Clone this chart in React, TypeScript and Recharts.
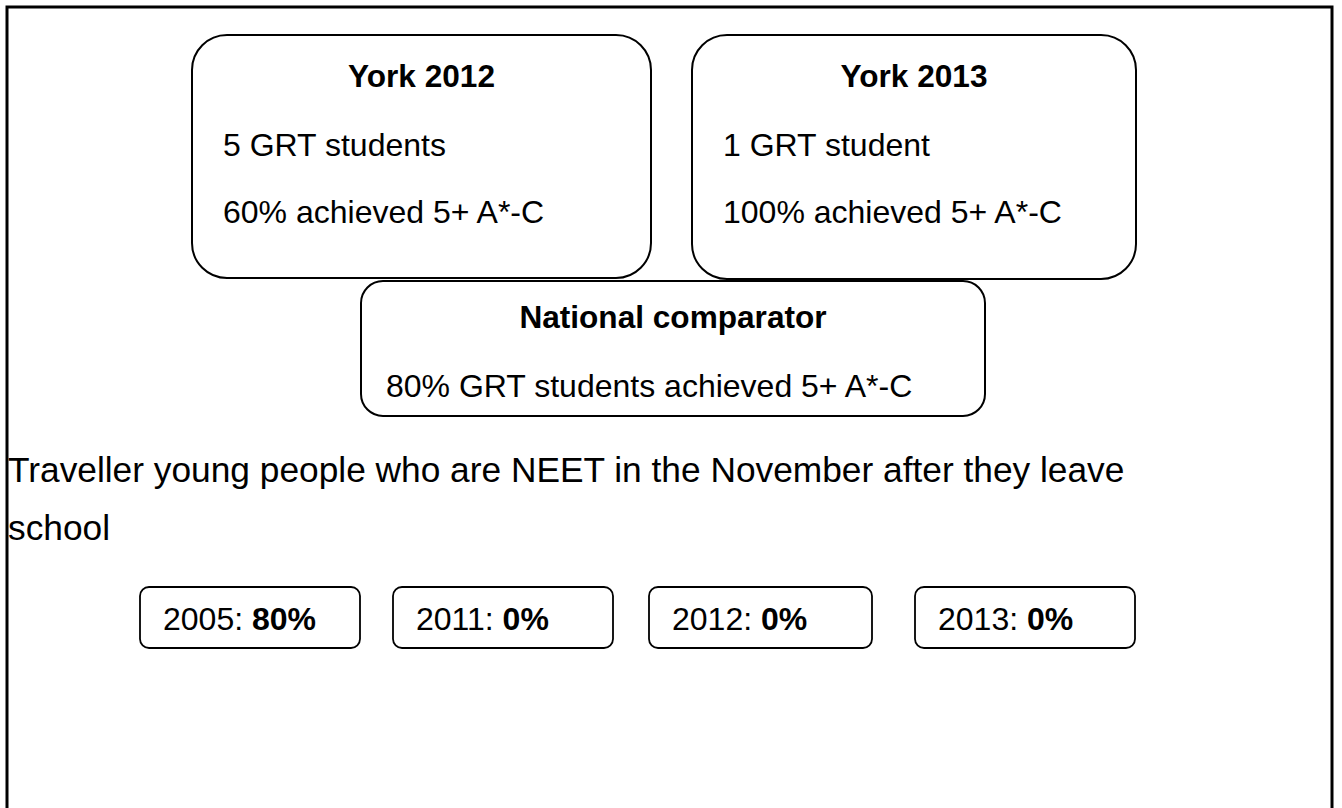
import React from 'react';
import { ComposedChart, Customized } from 'recharts';

// GCSE results for GRT students
const yorkTitles = ['York 2012', 'York 2013'];
const yorkStudents = ['5 GRT students', '1 GRT student'];
const yorkAchieved = [60, 100];
const nationalTitle = 'National comparator';
const nationalAchieved = 80;

// NEET rates
const neetHeading = ['Traveller young people who are NEET in the November after they leave', 'school'];
const neetYears = ['2005', '2011', '2012', '2013'];
const neetValues = [80, 0, 0, 0];

const W = 1342;
const H = 808;
const FONT = '"Liberation Sans", Arial, sans-serif';

// box geometry (pixels)
const yorkBoxes = [
  { x: 192, y: 35, w: 459, h: 243 },
  { x: 692, y: 35, w: 444, h: 244 },
];
const nationalBox = { x: 361, y: 281, w: 624, h: 135 };
const neetBoxes = [
  { x: 140, w: 220 },
  { x: 393, w: 220 },
  { x: 649, w: 223 },
  { x: 915, w: 220 },
];

const chartData = neetYears.map((year, i) => ({ year, value: neetValues[i] }));

function Panels() {
  return (
    <g fontFamily={FONT} fill="#000">
      <rect x={7} y={7} width={1325} height={H + 20} fill="none" stroke="#000" strokeWidth={3} />

      {yorkBoxes.map((b, i) => (
        <g key={yorkTitles[i]}>
          <rect x={b.x} y={b.y} width={b.w} height={b.h} rx={35} ry={35} fill="#fff" stroke="#000" strokeWidth={2} />
          <text x={b.x + b.w / 2} y={87} textAnchor="middle" fontSize={31.6} fontWeight="bold">
            {yorkTitles[i]}
          </text>
          <text x={b.x + 31} y={156} fontSize={32}>
            {yorkStudents[i]}
          </text>
          <text x={b.x + 31} y={223} fontSize={32}>
            {`${yorkAchieved[i]}% achieved 5+ A*-C`}
          </text>
        </g>
      ))}

      <rect
        x={nationalBox.x}
        y={nationalBox.y}
        width={nationalBox.w}
        height={nationalBox.h}
        rx={22}
        ry={22}
        fill="#fff"
        stroke="#000"
        strokeWidth={2}
      />
      <text x={nationalBox.x + nationalBox.w / 2} y={328} textAnchor="middle" fontSize={31.6} fontWeight="bold">
        {nationalTitle}
      </text>
      <text x={nationalBox.x + 25} y={397} fontSize={32}>
        {`${nationalAchieved}% GRT students achieved 5+ A*-C`}
      </text>

      <text x={8} y={482} fontSize={35.3}>
        {neetHeading[0]}
      </text>
      <text x={8} y={540} fontSize={35.3}>
        {neetHeading[1]}
      </text>

      {chartData.map((d, i) => (
        <g key={d.year}>
          <rect x={neetBoxes[i].x} y={587} width={neetBoxes[i].w} height={61} rx={9} ry={9} fill="#fff" stroke="#000" strokeWidth={1.8} />
          <text x={neetBoxes[i].x + 23} y={630} fontSize={32}>
            {`${d.year}: `}
            <tspan fontWeight="bold">{`${d.value}%`}</tspan>
          </text>
        </g>
      ))}
    </g>
  );
}

export default function App() {
  return (
    <div style={{ width: W, height: H, background: '#fff' }}>
      <style>{'body { margin: 0; background: #fff; }'}</style>
      <ComposedChart width={W} height={H} data={chartData} margin={{ top: 0, right: 0, bottom: 0, left: 0 }}>
        <Customized component={Panels} />
      </ComposedChart>
    </div>
  );
}
